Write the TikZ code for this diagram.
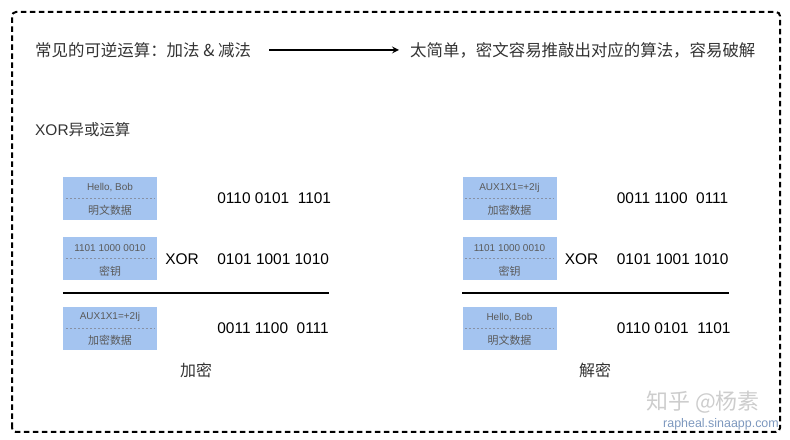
\documentclass[tikz,border=0pt]{standalone}
\usepackage{fontspec}
\setmainfont{Liberation Sans}
\newfontfamily\cjk{Noto Sans CJK SC}
\usetikzlibrary{positioning, arrows}
\definecolor{boxblue}{RGB}{164,196,240}
\definecolor{labelgray}{RGB}{90,90,90}
\definecolor{sepgray}{RGB}{135,145,165}
\definecolor{markgray}{RGB}{205,205,205}
\definecolor{linkblue}{RGB}{125,152,190}
\tikzstyle{frame} = [line width=2bp, dash pattern=on 5.5bp off 3.5bp, rounded corners=4bp]
\tikzstyle{heading} = [anchor=west, inner sep=0pt, text=black!80, font=\cjk\fontsize{16.5}{18}\selectfont]
\tikzstyle{databox} = [rectangle, minimum width=94bp, minimum height=43bp, fill=boxblue, inner sep=0pt]
\tikzstyle{boxtop} = [inner sep=0pt, text=labelgray, font=\fontsize{10}{11}\selectfont]
\tikzstyle{boxbottom} = [inner sep=0pt, text=labelgray, font=\cjk\fontsize{11}{12}\selectfont]
\tikzstyle{sep} = [draw=sepgray, line width=0.8bp, dash pattern=on 2bp off 2bp]
\tikzstyle{bits} = [inner sep=0pt, font=\fontsize{15.5}{18}\selectfont]
\tikzstyle{caption} = [inner sep=0pt, text=black!80, font=\cjk\fontsize{16}{18}\selectfont]
\tikzstyle{arrow} = [line width=2bp, ->, >=stealth]
\tikzstyle{rule} = [line width=2bp]

\begin{document}
\begin{tikzpicture}[x=1bp, y=1bp, node distance=17bp]
      \useasboundingbox (0,0) rectangle (790,440);
      \draw [frame] (12,8) rectangle (780,428);
      % top line
      \node (ops) [heading] at (35,390) {常见的可逆运算：加法 \& 减法};
      \node (weak) [heading] at (410,390) {太简单，密文容易推敲出对应的算法，容易破解};
      \draw [arrow] ([xshift=18bp]ops.east) -- ([xshift=-11bp]weak.west);
      \node (title) [heading, font=\fontsize{15.5}{18}\selectfont] at (35,310) {XOR{\cjk 异或运算}};
      % encrypt
      \node (plain1) [databox] at (110,241.5) {};
      \node (key1) [databox, below=of plain1] {};
      \node (cipher1) [databox, below=26bp of key1] {};
      \node [boxtop] at ([yshift=11bp]plain1.center) {Hello, Bob};
      \node [boxbottom] at ([yshift=-12bp]plain1.center) {明文数据};
      \draw [sep] ([xshift=3bp]plain1.west) -- ([xshift=-3bp]plain1.east);
      \node [boxtop] at ([yshift=11bp]key1.center) {1101 1000 0010};
      \node [boxbottom] at ([yshift=-12bp]key1.center) {密钥};
      \draw [sep] ([xshift=3bp]key1.west) -- ([xshift=-3bp]key1.east);
      \node [boxtop] at ([yshift=11bp]cipher1.center) {AUX1X1=+2Ij};
      \node [boxbottom] at ([yshift=-12bp]cipher1.center) {加密数据};
      \draw [sep] ([xshift=3bp]cipher1.west) -- ([xshift=-3bp]cipher1.east);
      \node (num11) [bits, right=60bp of plain1] {0110 0101\ \ 1101};
      \node (num12) [bits, right=60bp of key1] {0101 1001 1010};
      \node (num13) [bits, right=60bp of cipher1] {0011 1100\ \ 0111};
      \node (op1) [bits, right=8bp of key1] {XOR};
      \draw [rule] ([yshift=-12bp]key1.south west) -- ([yshift=-12bp]key1.south west -| num12.east);
      \node (enc) [caption] at (196,70) {加密};
      % decrypt
      \node (cipher2) [databox] at (509.5,241.5) {};
      \node (key2) [databox, below=of cipher2] {};
      \node (plain2) [databox, below=26bp of key2] {};
      \node [boxtop] at ([yshift=11bp]cipher2.center) {AUX1X1=+2Ij};
      \node [boxbottom] at ([yshift=-12bp]cipher2.center) {加密数据};
      \draw [sep] ([xshift=3bp]cipher2.west) -- ([xshift=-3bp]cipher2.east);
      \node [boxtop] at ([yshift=11bp]key2.center) {1101 1000 0010};
      \node [boxbottom] at ([yshift=-12bp]key2.center) {密钥};
      \draw [sep] ([xshift=3bp]key2.west) -- ([xshift=-3bp]key2.east);
      \node [boxtop] at ([yshift=11bp]plain2.center) {Hello, Bob};
      \node [boxbottom] at ([yshift=-12bp]plain2.center) {明文数据};
      \draw [sep] ([xshift=3bp]plain2.west) -- ([xshift=-3bp]plain2.east);
      \node (num21) [bits, right=60bp of cipher2] {0011 1100\ \ 0111};
      \node (num22) [bits, right=60bp of key2] {0101 1001 1010};
      \node (num23) [bits, right=60bp of plain2] {0110 0101\ \ 1101};
      \node (op2) [bits, right=8bp of key2] {XOR};
      \draw [rule] ([yshift=-12bp]key2.south west) -- ([yshift=-12bp]key2.south west -| num22.east);
      \node (dec) [caption] at (595,70) {解密};
      % watermark
      \node (mark) [caption, text=markgray, font=\cjk\fontsize{22}{24}\selectfont] at (703,38) {知乎 @杨素};
      \node (link) [inner sep=0pt, text=linkblue, font=\fontsize{12.5}{14}\selectfont, anchor=east] at (779,16) {rapheal.sinaapp.com};
    \end{tikzpicture}
\end{document}
